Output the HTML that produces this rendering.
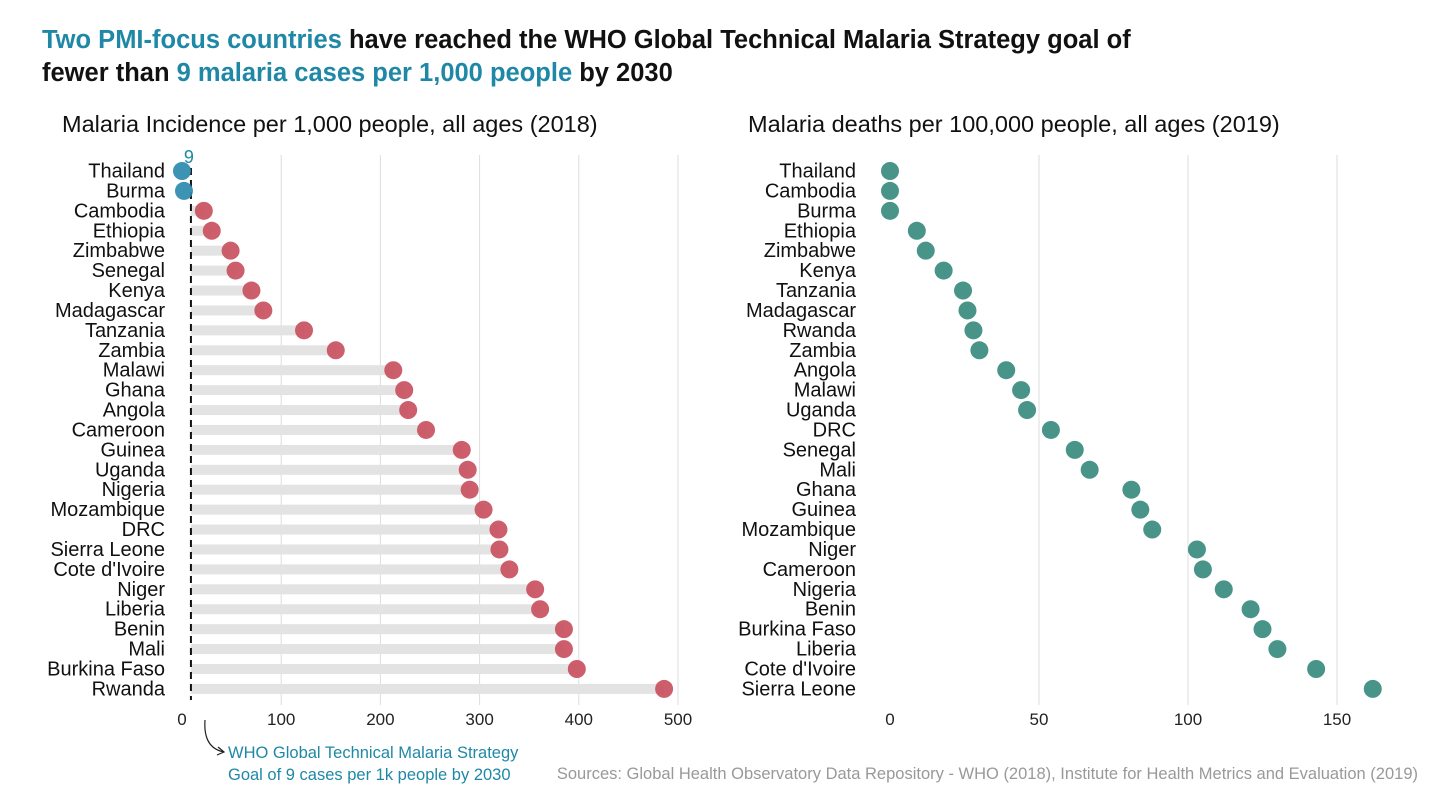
<!DOCTYPE html>
<html><head><meta charset="utf-8">
<style>
body{margin:0;background:#fff;}
svg{display:block;font-family:"Liberation Sans",sans-serif;}
</style></head>
<body>
<svg id="chart" width="1440" height="810">
<text x="42" y="48" font-size="25.5" font-weight="bold" fill="#111"><tspan fill="#1f88a6">Two PMI-focus countries</tspan> have reached the WHO Global Technical Malaria Strategy goal of</text>
<text x="42" y="81" font-size="25.5" font-weight="bold" fill="#111">fewer than <tspan fill="#1f88a6">9 malaria cases per 1,000 people</tspan> by 2030</text>
<text x="62" y="132" font-size="23.5" fill="#111">Malaria Incidence per 1,000 people, all ages (2018)</text>
<text x="748" y="132" font-size="23.5" fill="#111">Malaria deaths per 100,000 people, all ages (2019)</text>
<g id="left"></g>
<g id="right"></g>
<path d="M205,720 Q203,748 224,752" fill="none" stroke="#222" stroke-width="1.2"/>
<path d="M218,747 L224,752 L217,755" fill="none" stroke="#222" stroke-width="1.2"/>
<text x="228" y="758" font-size="16.5" fill="#1f88a6">WHO Global Technical Malaria Strategy</text>
<text x="228" y="780" font-size="16.5" fill="#1f88a6">Goal of 9 cases per 1k people by 2030</text>
<text x="1418" y="779" font-size="16.5" fill="#999" text-anchor="end">Sources: Global Health Observatory Data Repository - WHO (2018), Institute for Health Metrics and Evaluation (2019)</text>
</svg>
<script>
const leftCountries=["Thailand","Burma","Cambodia","Ethiopia","Zimbabwe","Senegal","Kenya","Madagascar","Tanzania","Zambia","Malawi","Ghana","Angola","Cameroon","Guinea","Uganda","Nigeria","Mozambique","DRC","Sierra Leone","Cote d'Ivoire","Niger","Liberia","Benin","Mali","Burkina Faso","Rwanda"];
const leftValues=[0,2,22,30,49,54,70,82,123,155,213,224,228,246,282,288,290,304,319,320,330,356,361,385,385,398,486];
const leftTicks=[0,100,200,300,400,500];
const goal=9;
const rightCountries=["Thailand","Cambodia","Burma","Ethiopia","Zimbabwe","Kenya","Tanzania","Madagascar","Rwanda","Zambia","Angola","Malawi","Uganda","DRC","Senegal","Mali","Ghana","Guinea","Mozambique","Niger","Cameroon","Nigeria","Benin","Burkina Faso","Liberia","Cote d'Ivoire","Sierra Leone"];
const rightValues=[0,0,0,9,12,18,24.5,26,28,30,39,44,46,54,62,67,81,84,88,103,105,112,121,125,130,143,162];
const rightTicks=[0,50,100,150];

const NS="http://www.w3.org/2000/svg";
function mk(parent,tag,attrs){const e=document.createElementNS(NS,tag);for(const k in attrs)e.setAttribute(k,attrs[k]);parent.appendChild(e);return e;}
const rowY=i=>171+i*19.92;
const xL=v=>182+v*0.992;
const xR=v=>890+v*2.98;

const L=document.getElementById("left");
leftTicks.forEach(t=>{
  if(t>0){
  const g=mk(L,"line",{x1:xL(t),x2:xL(t),y1:155,y2:705,stroke:"#ddd","stroke-width":1});
  
  }
  const tx=mk(L,"text",{x:xL(t),y:725,"font-size":17,fill:"#222","text-anchor":"middle"});
  tx.textContent=t;
  
  
});
leftCountries.forEach((c,i)=>{
  const y=rowY(i),v=leftValues[i];
  if(v>goal){
    const b=mk(L,"rect",{x:xL(goal),y:y-5,width:xL(v)-xL(goal),height:10,fill:"#e3e3e3"});
    
    
  }
});
const dl=mk(L,"line",{x1:xL(goal),x2:xL(goal),y1:168,y2:700,stroke:"#111","stroke-width":2,"stroke-dasharray":"7,5"});


const gl=mk(L,"text",{x:xL(goal)-2,y:163,"font-size":18,fill:"#1f88a6","text-anchor":"middle"});
gl.textContent=goal;


leftCountries.forEach((c,i)=>{
  const y=rowY(i),v=leftValues[i];
  const d=mk(L,"circle",{cx:xL(v),cy:y,r:9,fill:v<=goal?"#2b8aad":"#c9505f","fill-opacity":0.92});
  
  
  const t=mk(L,"text",{x:165,y:y+6.5,"font-size":20,fill:"#111","text-anchor":"end"});
  t.textContent=c;
  
  
});

const R=document.getElementById("right");
rightTicks.forEach(t=>{
  if(t>0){
  const g=mk(R,"line",{x1:xR(t),x2:xR(t),y1:155,y2:705,stroke:"#ddd","stroke-width":1});
  
  }
  const tx=mk(R,"text",{x:xR(t),y:725,"font-size":17,fill:"#222","text-anchor":"middle"});
  tx.textContent=t;
  
  
});
rightCountries.forEach((c,i)=>{
  const y=rowY(i),v=rightValues[i];
  const d=mk(R,"circle",{cx:xR(v),cy:y,r:9,fill:"#3a8b7e","fill-opacity":0.92});
  
  
  const t=mk(R,"text",{x:856,y:y+6.5,"font-size":20,fill:"#111","text-anchor":"end"});
  t.textContent=c;
  
  
});
</script>
</body></html>
